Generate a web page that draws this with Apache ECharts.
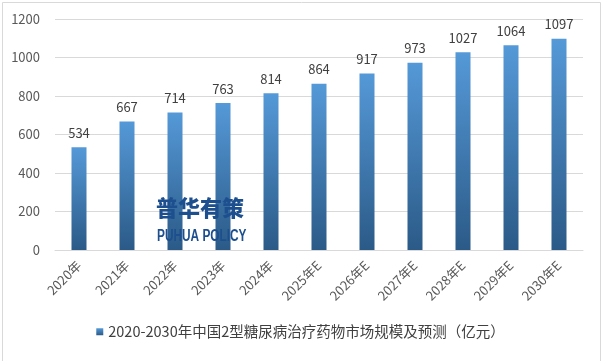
<!DOCTYPE html>
<html><head><meta charset="utf-8">
<script src="https://cdn.jsdelivr.net/npm/echarts@6/dist/echarts.min.js"></script>
<style>html,body{margin:0;padding:0;background:#fff}#c{width:601px;height:361px}</style>
</head><body><div id="c"></div>
<script>
const categories = ['2020年','2021年','2022年','2023年','2024年','2025年E','2026年E','2027年E','2028年E','2029年E','2030年E'];
const values = [534,667,714,763,814,864,917,973,1027,1064,1097];
const seriesName = '2020-2030年中国2型糖尿病治疗药物市场规模及预测（亿元）';
const yTicks = {min:0, max:1200, interval:200};
const font = '"Microsoft YaHei","Noto Sans CJK SC","Open Sans",sans-serif';
const grad = new echarts.graphic.LinearGradient(0,0,0,1,[{offset:0,color:'#5599d8'},{offset:1,color:'#2b5a87'}]);
const chart = echarts.init(document.getElementById('c'));
chart.setOption({
  animation:false,
  backgroundColor:'#fff',
  grid:{left:55,right:18,top:19,bottom:111},
  xAxis:{type:'category',data:categories,
    axisLine:{lineStyle:{color:'#d9d9d9'}},axisTick:{show:false},
    axisLabel:{rotate:45,color:'#595959',fontSize:13,fontFamily:font,margin:13,interval:0}},
  yAxis:{type:'value',min:yTicks.min,max:yTicks.max,interval:yTicks.interval,
    axisLine:{show:false},axisTick:{show:false},
    splitLine:{lineStyle:{color:'#d9d9d9'}},
    axisLabel:{color:'#595959',fontSize:13,fontFamily:font,margin:15,formatter:v=>String(v)}},
  legend:{bottom:17,left:'center',itemWidth:7,itemHeight:7,icon:'rect',itemGap:4,
    textStyle:{color:'#404040',fontSize:14.5,fontFamily:font},data:[seriesName]},
  graphic:[
    {type:'rect',left:0,top:0,shape:{width:598,height:359},style:{fill:'none',stroke:'#d9d9d9',lineWidth:1},silent:true},
    {type:'text',x:156,y:197,z:100,style:{text:'普华有策',font:'900 22px "Noto Sans CJK SC",sans-serif',fill:'#1d4f8f'}},
    {type:'text',x:157,y:229,scaleX:0.74,z:100,style:{text:'PUHUA POLICY',font:'bold 16px "Liberation Sans","DejaVu Sans",sans-serif',fill:'#1d4f8f'}}
  ],
  series:[{name:seriesName,type:'bar',data:values,barWidth:15,
    itemStyle:{color:grad},
    label:{show:true,position:'top',distance:8,color:'#404040',fontSize:13,fontFamily:font}}]
});
</script></body></html>
